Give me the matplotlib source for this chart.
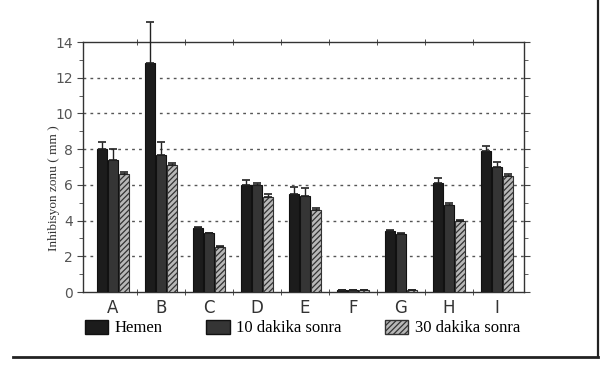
import numpy as np
import matplotlib
matplotlib.use("Agg")
import matplotlib.pyplot as plt
from matplotlib.patches import Patch
from matplotlib.ticker import MultipleLocator, FixedLocator

# data
groups = ['A', 'B', 'C', 'D', 'E', 'F', 'G', 'H', 'I']
hemen = [8.0, 12.8, 3.6, 6.0, 5.5, 0.1, 3.4, 6.1, 7.9]
dk10 = [7.4, 7.7, 3.3, 6.0, 5.4, 0.1, 3.25, 4.9, 7.0]
dk30 = [6.6, 7.1, 2.5, 5.3, 4.6, 0.1, 0.1, 4.0, 6.5]
err_hemen = [0.4, 2.3, 0.05, 0.3, 0.4, 0.0, 0.05, 0.3, 0.3]
err_dk10 = [0.6, 0.7, 0.0, 0.1, 0.4, 0.0, 0.05, 0.1, 0.3]
err_dk30 = [0.1, 0.1, 0.05, 0.2, 0.1, 0.0, 0.0, 0.05, 0.1]
labels = ['Hemen', '10 dakika sonra', '30 dakika sonra']

plt.rcParams['hatch.color'] = '#333333'
plt.rcParams['hatch.linewidth'] = 0.9

fig = plt.figure(figsize=(6.05, 3.65), dpi=100)
ax = fig.add_axes([83 / 605, 1 - 292 / 365, 441 / 605, 250 / 365])

x = np.arange(len(groups))
w = 0.21
off = 0.23
ekw = dict(ecolor='#222222', elinewidth=1.0, capsize=3, capthick=1.2)
n = len(groups)
b1 = ax.bar(x - off, hemen, w, color='#1c1c1c', edgecolor='#111111', lw=0.8,
            yerr=[[0] * n, err_hemen], error_kw=ekw, zorder=3)
b2 = ax.bar(x, dk10, w, color='#353535', edgecolor='#111111', lw=0.8,
            yerr=[[0] * n, err_dk10], error_kw=ekw, zorder=3)
b3 = ax.bar(x + off, dk30, w, color='#b8b8b8', edgecolor='#333333', lw=0.8,
            hatch='//////', yerr=[[0] * n, err_dk30], error_kw=ekw, zorder=3)
# the big error bar of B sticks out above the frame
for bc in (b1, b2, b3):
    for art in bc.errorbar.lines[1] + bc.errorbar.lines[2]:
        art.set_clip_on(False)

ax.set_xlim(-0.62, 8.56)
ax.set_ylim(0, 14)
ax.yaxis.set_major_locator(MultipleLocator(2))
ax.yaxis.set_minor_locator(MultipleLocator(1))
ax.set_xticks(x)
ax.set_xticklabels(groups, fontsize=12, color='#333333')
ax.xaxis.set_minor_locator(FixedLocator(np.arange(0.5, 8, 1)))
ax.tick_params(axis='x', which='major', length=0, pad=5)
ax.tick_params(axis='x', which='minor', length=4, direction='inout', color='#333333', top=True)
ax.tick_params(axis='y', which='major', labelsize=10, labelcolor='#555555',
               length=4, color='#444444', right=True, direction='out')
ax.tick_params(axis='y', which='minor', length=3, right=True, color='#444444')

for yv in range(2, 14, 2):
    ax.axhline(yv, color='#555555', lw=1.0, ls=(0, (2, 3)), zorder=1)

for s in ax.spines.values():
    s.set_color('#333333')
    s.set_linewidth(1.0)

fig.text(54 / 605, 1 - 188 / 365, 'Inhibisyon zonu ( mm )', rotation=90,
         fontsize=9.5, family='Liberation Serif', color='#333333',
         ha='center', va='center')

handles = [Patch(facecolor='#1c1c1c', edgecolor='#111111'),
           Patch(facecolor='#353535', edgecolor='#111111'),
           Patch(facecolor='#b8b8b8', edgecolor='#333333', hatch='//////')]
fig.legend(handles, labels, loc='center', bbox_to_anchor=(0.50, 1 - 328 / 365),
           ncol=3, frameon=False, prop={'family': 'Liberation Serif', 'size': 12},
           handlelength=1.4, handleheight=0.9, columnspacing=2.6, handletextpad=0.4)

# frame of the scanned box
fig.add_artist(plt.Line2D([13 / 605, 598 / 605], [1 - 357 / 365] * 2,
                          color='#222222', lw=2.0))
fig.add_artist(plt.Line2D([598 / 605] * 2, [1 - 357 / 365, 1.0],
                          color='#222222', lw=1.6))

fig.savefig('out.png', dpi=100, facecolor='white')
